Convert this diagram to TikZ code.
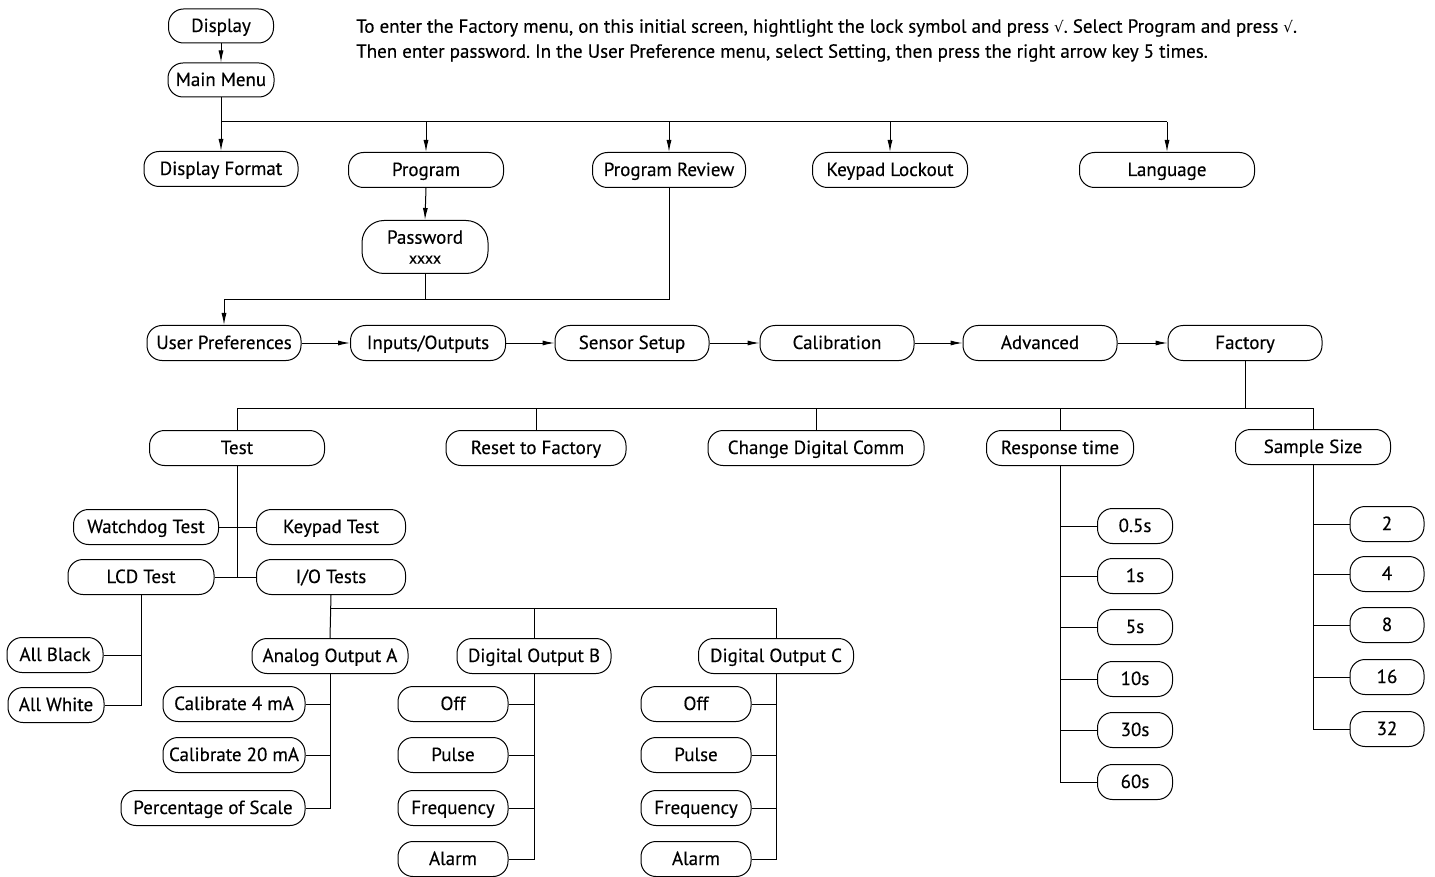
\documentclass[tikz,border=0pt]{standalone}
\usepackage{fontspec}
\setmainfont{PT Sans}[FakeBold=0.3]
\newfontfamily\symfont{DejaVu Sans}
\usetikzlibrary{arrows.meta}
\frenchspacing
\begin{document}
\begin{tikzpicture}[x=1pt,y=-1pt,
  box/.style={draw, line width=1pt, rounded corners=15pt, minimum height=35pt, inner sep=0pt,
    text height=13pt, text depth=1pt, font=\fontsize{19}{22}\selectfont},
  conn/.style={line width=1pt},
  arr/.style={conn, -{Latex[length=12pt,width=5pt]}}]
\useasboundingbox (0,0) rectangle (1435,877);

% top note
\node[anchor=north west, align=left, inner sep=0pt, font=\fontsize{19}{25}\selectfont] (note) at (356,19)
  {To enter the Factory menu, on this initial screen, hightlight the lock symbol and press {\symfont\fontsize{15}{15}\selectfont √}. Select Program and press {\symfont\fontsize{15}{15}\selectfont √}.\\
   Then enter password. In the User Preference menu, select Setting, then press the right arrow key 5 times.};

% level 1
\node[box, minimum width=105pt, minimum height=34pt] (disp) at (221,26) {Display};
\node[box, minimum width=106pt, minimum height=34pt] (mm) at (221,80) {Main Menu};
\node[box, minimum width=154pt] (df) at (221,169) {Display Format};
\node[box, minimum width=155pt] (prog) at (426,170) {Program};
\node[box, minimum width=153pt] (pr) at (669,170) {Program Review};
\node[box, minimum width=155pt] (kl) at (890,170) {Keypad Lockout};
\node[box, minimum width=175pt] (lang) at (1167,170) {Language};
\node[box, minimum width=126pt, minimum height=53pt, rounded corners=22pt, align=center,
  text height=, text depth=, font=\fontsize{19}{20}\selectfont] (pw) at (425,247) {Password\\{\fontsize{16}{16}\selectfont xxxx}};

% chain
\node[box, minimum width=154pt] (up) at (224,343) {User Preferences};
\node[box, minimum width=155pt] (inout) at (428,343) {Inputs/Outputs};
\node[box, minimum width=154pt] (sens) at (632,343) {Sensor Setup};
\node[box, minimum width=154pt] (cal) at (837,343) {Calibration};
\node[box, minimum width=154pt] (adv) at (1040,343) {Advanced};
\node[box, minimum width=154pt] (fac) at (1245,343) {Factory};

% factory children
\node[box, minimum width=175pt] (test) at (237,448) {Test};
\node[box, minimum width=180pt] (rtf) at (536,448) {Reset to Factory};
\node[box, minimum width=216pt] (cdc) at (816,448) {Change Digital Comm};
\node[box, minimum width=147pt] (rt) at (1060,448) {Response time};
\node[box, minimum width=155pt] (ss) at (1313,447) {Sample Size};

% tests
\node[box, minimum width=145pt] (wd) at (146,527) {Watchdog Test};
\node[box, minimum width=149pt] (kp) at (331,527) {Keypad Test};
\node[box, minimum width=146pt] (lcd) at (141,577) {LCD Test};
\node[box, minimum width=149pt] (iot) at (331,577) {I/O Tests};
\node[box, minimum width=96pt] (ab) at (55,655) {All Black};
\node[box, minimum width=96pt] (aw) at (56,705) {All White};

% outputs
\node[box, minimum width=156pt] (ao) at (330,656) {Analog Output A};
\node[box, minimum width=154pt] (dob) at (534,656) {Digital Output B};
\node[box, minimum width=155pt] (doc) at (776,656) {Digital Output C};
\node[box, minimum width=142pt] (c4) at (234,704) {Calibrate 4 mA};
\node[box, minimum width=142pt] (c20) at (234,755) {Calibrate 20 mA};
\node[box, minimum width=184pt] (pos) at (213,808) {Percentage of Scale};
\node[box, minimum width=110pt] (boff) at (453,704) {Off};
\node[box, minimum width=110pt] (bpul) at (453,755) {Pulse};
\node[box, minimum width=110pt] (bfrq) at (453,808) {Frequency};
\node[box, minimum width=110pt] (balm) at (453,859) {Alarm};
\node[box, minimum width=110pt] (coff) at (696,704) {Off};
\node[box, minimum width=110pt] (cpul) at (696,755) {Pulse};
\node[box, minimum width=110pt] (cfrq) at (696,808) {Frequency};
\node[box, minimum width=110pt] (calm) at (696,859) {Alarm};

% response time
\node[box, minimum width=75pt] (r05) at (1135,526) {0.5s};
\node[box, minimum width=75pt] (r1) at (1135,576) {1s};
\node[box, minimum width=75pt] (r5) at (1135,627) {5s};
\node[box, minimum width=75pt] (r10) at (1135,679) {10s};
\node[box, minimum width=75pt] (r30) at (1135,730) {30s};
\node[box, minimum width=75pt] (r60) at (1135,782) {60s};

% sample size
\node[box, minimum width=74pt] (s2) at (1387,524) {2};
\node[box, minimum width=74pt] (s4) at (1387,574) {4};
\node[box, minimum width=74pt] (s8) at (1387,625) {8};
\node[box, minimum width=74pt] (s16) at (1387,677) {16};
\node[box, minimum width=74pt] (s32) at (1387,729) {32};

% bus coordinates
\coordinate (b1) at (0,122);
\coordinate (b2) at (0,300);
\coordinate (b3) at (0,408);
\coordinate (b4) at (0,608);

% connectors
\draw[arr] (disp.south) -- (mm.north);
\draw[conn] (mm.south) -- (mm.south |- b1) -- (lang.north |- b1);
\foreach \n in {df,prog,pr,kl,lang} \draw[arr] (\n.north |- b1) -- (\n.north);
\draw[arr] (prog.south) -- (pw.north);
\draw[conn] (pw.south) -- (pw.south |- b2);
\draw[arr] (pr.south) -- (pr.south |- b2) -- (up.north |- b2) -- (up.north);

\draw[arr] (up.east) -- (inout.west);
\draw[arr] (inout.east) -- (sens.west);
\draw[arr] (sens.east) -- (cal.west);
\draw[arr] (cal.east) -- (adv.west);
\draw[arr] (adv.east) -- (fac.west);

\draw[conn] (fac.south) -- (fac.south |- b3);
\draw[conn] (test.north |- b3) -- (ss.north |- b3);
\foreach \n in {test,rtf,cdc,rt,ss} \draw[conn] (\n.north |- b3) -- (\n.north);

\draw[conn] (test.south) -- (test.south |- iot.west);
\draw[conn] (wd.east) -- (kp.west);
\draw[conn] (lcd.east) -- (iot.west);

\draw[conn] (lcd.south) |- (aw.east);
\draw[conn] (ab.east) -- (ab.east -| lcd.south);

\draw[conn] (iot.south) -- (ao.north);
\draw[conn] (iot.south |- b4) -| (doc.north);
\draw[conn] (dob.north |- b4) -- (dob.north);

\draw[conn] (ao.south) |- (pos.east);
\foreach \n in {c4,c20} \draw[conn] (\n.east) -- (\n.east -| ao.south);
\draw[conn] (dob.south) |- (balm.east);
\foreach \n in {boff,bpul,bfrq} \draw[conn] (\n.east) -- (\n.east -| dob.south);
\draw[conn] (doc.south) |- (calm.east);
\foreach \n in {coff,cpul,cfrq} \draw[conn] (\n.east) -- (\n.east -| doc.south);

\draw[conn] (rt.south) |- (r60.west);
\foreach \n in {r05,r1,r5,r10,r30} \draw[conn] (\n.west) -- (\n.west -| rt.south);
\draw[conn] (ss.south) |- (s32.west);
\foreach \n in {s2,s4,s8,s16} \draw[conn] (\n.west) -- (\n.west -| ss.south);
\end{tikzpicture}
\end{document}
